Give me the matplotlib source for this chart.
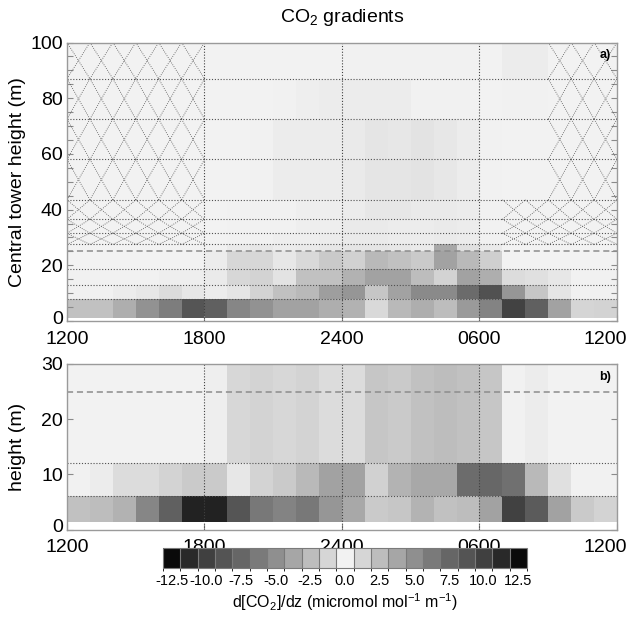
import numpy as np
import matplotlib
matplotlib.use("Agg")
import matplotlib.pyplot as plt
from matplotlib.colors import LinearSegmentedColormap, ListedColormap, BoundaryNorm, Normalize
from matplotlib.cm import ScalarMappable
from matplotlib.ticker import MultipleLocator, FixedLocator
from matplotlib.transforms import ScaledTranslation

plt.rcParams["font.family"] = ["Liberation Sans", "DejaVu Sans"]
plt.rcParams["mathtext.fontset"] = "custom"
plt.rcParams["mathtext.rm"] = "Liberation Sans"
plt.rcParams["mathtext.it"] = "Liberation Sans:italic"
plt.rcParams["mathtext.default"] = "regular"
plt.rcParams["axes.unicode_minus"] = False

nan = np.nan

# hourly bins, 1200 -> 1200 next day
HOUR_EDGES = np.arange(12, 37)
HOUR_TICKS = [12, 18, 24, 30, 36]
HOUR_LABELS = ["1200", "1800", "2400", "0600", "1200"]

# layer boundaries (m)
TOWER_EDGES = [1, 8, 13, 18.5, 25, 27.5, 31.5, 36.5, 43.5, 58, 72.5, 87, 100]
SUB_EDGES = [1.3, 6, 12, 30]
CANOPY = 25

# d[CO2]/dz, rows bottom -> top, one value per hour (nan = no data)
tower_r0 = [2.3, 2.3, 3.3, 4.8, 6.1, 8.7, -7.9, -5.5, -4.8, -3.9, -3.9, -3.3,
            -3.1, -1.1, -2.7, -3.3, -2.5, -4.4, 5.7, 9.8, 7.9, 3.9, 1.3, 1.4]
tower_r1 = [0.1, 0.1, 0.3, 0.5, 1.0, 0.5, -0.3, -0.6, -1.4, -2.3, -2.7, -4.2,
            -4.6, -2.0, -3.9, -5.3, -5.3, -7.2, 8.9, 4.6, 2.0, 0.6, 0.1, 0.1]
tower_r2 = [0.1, 0.1, 0.1, 0.1, 0.2, 0.2, -0.4, -1.2, -1.4, -0.7, -2.3, -2.3,
            -3.1, -3.9, -3.9, -2.5, -1.4, -3.9, 3.3, 1.0, 0.8, 0.5, 0.1, 0.1]
tower_r3 = [0.05, 0.05, 0.05, 0.05, 0.05, 0.05, -0.3, -1.2, -1.2, -0.5, -1.1, -1.8,
            -1.5, -2.7, -2.3, -1.8, -3.9, -2.7, 1.6, 0.05, 0.05, 0.05, 0.05, 0.05]
tower_r4 = [0.05, 0.05, 0.05, 0.05, 0.05, 0.05, -0.1, -0.4, -0.5, -0.3, -0.4, -0.5,
            -0.6, -0.6, -0.5, -0.4, -3.6, -0.8, 0.4, 0.05, 0.05, 0.05, 0.05, 0.05]
tower_r5 = [nan, nan, nan, nan, nan, nan, -0.05, -0.1, -0.1, -0.2, -0.2, -0.3,
            -0.4, -0.4, -0.3, -0.3, -0.4, -0.3, 0.1, nan, nan, nan, nan, nan]
tower_r6 = [nan, nan, nan, nan, nan, nan, -0.05, -0.1, -0.1, -0.1, -0.2, -0.2,
            -0.4, -0.4, -0.3, -0.3, -0.4, -0.3, 0.1, nan, nan, nan, nan, nan]
tower_r7 = [nan, nan, nan, nan, nan, nan, -0.05, -0.1, -0.1, -0.1, -0.2, -0.2,
            -0.3, -0.5, -0.5, -0.4, -0.4, -0.3, 0.1, nan, nan, nan, nan, nan]
tower_r8 = [nan, nan, nan, nan, nan, nan, -0.05, -0.05, -0.1, -0.3, -0.3, -0.3,
            -0.4, -0.6, -0.6, -0.7, -0.5, -0.3, 0.1, 0.05, 0.05, nan, nan, nan]
tower_r9 = [nan, nan, nan, nan, nan, nan, -0.05, -0.05, -0.1, -0.3, -0.3, -0.3,
            -0.4, -0.6, -0.5, -0.7, -0.5, -0.3, 0.1, 0.05, 0.05, nan, nan, nan]
tower_r10 = [nan, nan, nan, nan, nan, nan, -0.05, -0.05, -0.05, -0.1, -0.2, -0.3,
             -0.3, -0.3, -0.3, -0.1, -0.1, -0.1, 0.05, 0.1, 0.1, nan, nan, nan]
tower_r11 = [nan, nan, nan, nan, nan, nan, -0.05, -0.05, -0.05, -0.05, -0.05, -0.05,
             -0.1, -0.1, -0.1, -0.1, -0.1, -0.1, 0.05, 0.3, 0.3, nan, nan, nan]

sub_r0 = [2.3, 2.5, 3.1, 5.5, 7.9, 11.5, -11.5, -8.7, -6.4, -5.7, -6.4, -4.6,
          -3.6, -1.8, -2.0, -3.0, -2.3, -2.5, 3.9, 9.9, 8.3, 3.9, 1.8, 1.4]
sub_r1 = [0.1, 0.3, 1.0, 1.0, 1.4, 1.8, -1.8, -0.5, -1.4, -1.8, -2.7, -3.9,
          -3.9, -1.5, -3.0, -3.6, -3.6, -7.1, 7.4, 6.9, 2.7, 0.8, 0.1, 0.1]
sub_r2 = [0.05, 0.05, 0.05, 0.05, 0.05, 0.05, -0.2, -1.2, -1.4, -1.2, -1.4, -1.0,
          -1.0, -2.0, -1.8, -2.3, -2.5, -2.3, 2.0, 0.1, 0.3, 0.05, 0.05, 0.05]

# colour scale: 21 grey classes of 1.25, symmetric around zero
CBAR_TICKS = [-12.5, -10.0, -7.5, -5.0, -2.5, 0.0, 2.5, 5.0, 7.5, 10.0, 12.5]
LEVEL_GRAYS = [0.04, 0.16, 0.25, 0.33, 0.40, 0.48, 0.56, 0.65, 0.74, 0.84, 0.95,
               0.84, 0.74, 0.65, 0.56, 0.48, 0.40, 0.33, 0.25, 0.16, 0.04]
VMAX = 13.125

tower = np.array([tower_r0, tower_r1, tower_r2, tower_r3, tower_r4, tower_r5,
                  tower_r6, tower_r7, tower_r8, tower_r9, tower_r10, tower_r11])
sub = np.array([sub_r0, sub_r1, sub_r2])

n_lev = len(LEVEL_GRAYS)
bounds = np.linspace(-VMAX, VMAX, n_lev + 1)
centers = (bounds[:-1] + bounds[1:]) / 2
pos = (centers + VMAX) / (2 * VMAX)
colors = [(g, g, g) for g in LEVEL_GRAYS]
anchors = [(0.0, colors[0])] + list(zip(pos, colors)) + [(1.0, colors[-1])]
cmap = LinearSegmentedColormap.from_list("co2grey", anchors, N=512)
cmap = cmap.with_extremes(bad=colors[n_lev // 2])
norm = Normalize(-VMAX, VMAX)

W, H = 627, 617
fig = plt.figure(figsize=(W / 100, H / 100), dpi=100)

ax_a = fig.add_axes([67 / W, (H - 321) / H, 550 / W, 278.5 / H])
ax_b = fig.add_axes([67 / W, (H - 529.5) / H, 550 / W, 165.5 / H])

DOT = (0, (1, 1.6))
GRID_C = "#505050"


def shift(label, dx, dy):
    label.set_transform(label.get_transform()
                        + ScaledTranslation(dx / 100, dy / 100, fig.dpi_scale_trans))


def draw_panel(ax, data, edges, ymax, ylabel, tag, tag_y):
    ax.pcolormesh(HOUR_EDGES, edges, np.ma.masked_invalid(data), cmap=cmap, norm=norm)

    # missing cells get a cross
    for i, j in zip(*np.where(np.isnan(data))):
        x0, x1 = HOUR_EDGES[j], HOUR_EDGES[j + 1]
        y0, y1 = edges[i], edges[i + 1]
        ax.plot([x0, x1], [y0, y1], ls=DOT, lw=0.6, color=GRID_C)
        ax.plot([x0, x1], [y1, y0], ls=DOT, lw=0.6, color=GRID_C)

    for e in edges[1:-1]:
        if e != CANOPY:
            ax.axhline(e, ls=DOT, lw=0.8, color=GRID_C)
    ax.axhline(CANOPY, ls=(0, (4, 2.5)), lw=1.1, color="#8c8c8c")
    for t in HOUR_TICKS[1:-1]:
        ax.axvline(t, ls=DOT, lw=0.8, color="#404040")

    ax.set_xlim(HOUR_EDGES[0], HOUR_EDGES[-1])
    ax.set_ylim(0, ymax)
    ax.set_xticks(HOUR_TICKS)
    ax.set_xticklabels(HOUR_LABELS)
    ax.set_ylabel(ylabel, fontsize=14)
    ax.tick_params(axis="both", labelsize=14, direction="in", color="#8a8a8a",
                   length=4, width=0.8, right=True, pad=3)
    ax.tick_params(axis="x", pad=7)
    ax.tick_params(axis="both", which="minor", direction="in", color="#8a8a8a",
                   length=4, width=0.8, right=True)
    for sp in ax.spines.values():
        sp.set_color("#9a9a9a")
        sp.set_linewidth(1.0)
    ax.text(0.978, tag_y, tag, transform=ax.transAxes, ha="center", va="center",
            fontsize=9, fontweight="bold")

    # keep the last time label inside the figure
    shift(ax.get_xticklabels()[-1], -12, 0)


draw_panel(ax_a, tower, TOWER_EDGES, 100, "Central tower height (m)", "a)", 0.955)
ax_a.yaxis.set_major_locator(FixedLocator([0, 20, 40, 60, 80, 100]))
ax_a.yaxis.set_minor_locator(MultipleLocator(5))

draw_panel(ax_b, sub, SUB_EDGES, 30, "height (m)", "b)", 0.921)
ax_b.yaxis.set_major_locator(FixedLocator([0, 10, 20, 30]))

for ax in (ax_a, ax_b):
    ax.yaxis.set_label_coords(-0.074, 0.5)
    # lift the zero label clear of the time labels
    shift(ax.get_yticklabels()[0], 0, 4)

fig.text(342 / W, 1 - 17 / H, "CO$_2$ gradients", ha="center", va="center", fontsize=14)

cax = fig.add_axes([163 / W, (H - 568) / H, 364 / W, 20 / H])
sm = ScalarMappable(norm=BoundaryNorm(bounds, n_lev), cmap=ListedColormap(colors))
cb = fig.colorbar(sm, cax=cax, orientation="horizontal", ticks=CBAR_TICKS, drawedges=True)
cb.dividers.set_color("#7a7a7a")
cb.dividers.set_linewidth(0.8)
cb.outline.set_edgecolor("#7a7a7a")
cb.outline.set_linewidth(0.8)
cax.set_xticklabels([f"{t:.1f}" for t in CBAR_TICKS])
cax.tick_params(length=0, labelsize=10.5, pad=4)
cax.set_xlabel("d[CO$_2$]/dz (micromol mol$^{-1}$ m$^{-1}$)", fontsize=11.5, labelpad=3)

fig.savefig("out.png", dpi=100)
